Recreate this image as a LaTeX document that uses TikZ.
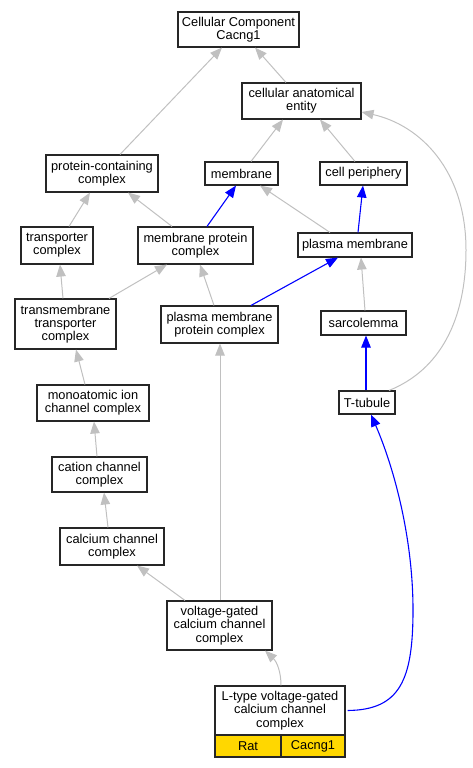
\documentclass[tikz,border=0pt]{standalone}
\usepackage{fontspec}
\setmainfont{Liberation Sans}
\usetikzlibrary{arrows.meta,calc}
\definecolor{edgegray}{HTML}{C0C0C0}
\definecolor{gold}{HTML}{FFD700}
\begin{document}
\begin{tikzpicture}[x=1pt,y=-1pt,
  box/.style={draw=black!85,line width=1.1pt,fill=white,inner sep=0pt,align=center,
    font=\fontsize{12.8}{13.3}\selectfont},
  cell/.style={box,fill=gold},
  isa/.style={draw=edgegray,line width=1pt,-{Triangle[length=12pt,width=9.5pt]}},
  part/.style={draw=blue,line width=1.1pt,-{Triangle[length=12pt,width=9.5pt]}}]
\useasboundingbox (0,0) rectangle (473,768);
\node[box,minimum width=121,minimum height=35] (cc) at (238.5,29.5) {Cellular Component\\Cacng1};
\node[box,minimum width=119,minimum height=36] (cae) at (301.5,101) {cellular anatomical\\entity};
\node[box,minimum width=73,minimum height=23] (mem) at (241.5,173.5) {membrane};
\node[box,minimum width=87,minimum height=23] (cp) at (363.5,173.5) {cell periphery};
\node[box,minimum width=112,minimum height=37] (pcc) at (102,173.5) {protein-containing\\complex};
\node[box,minimum width=72,minimum height=37] (tc) at (57,245.5) {transporter\\complex};
\node[box,minimum width=115,minimum height=37] (mpc) at (195.5,245.5) {membrane protein\\complex};
\node[box,minimum width=114,minimum height=24] (pm) at (355,245) {plasma membrane};
\node[box,minimum width=101,minimum height=50] (tmtc) at (65.5,324) {transmembrane\\transporter\\complex};
\node[box,minimum width=117,minimum height=37] (pmpc) at (219.5,324.5) {plasma membrane\\protein complex};
\node[box,minimum width=85,minimum height=24] (sar) at (363.5,323) {sarcolemma};
\node[box,minimum width=56,minimum height=23] (ttub) at (367,402.5) {T-tubule};
\node[box,minimum width=112,minimum height=36] (mic) at (93,403) {monoatomic ion\\channel complex};
\node[box,minimum width=95,minimum height=35] (cat) at (99.5,474.5) {cation channel\\complex};
\node[box,minimum width=104,minimum height=37] (cal) at (112,546.5) {calcium channel\\complex};
\node[box,minimum width=105,minimum height=49] (vg) at (219.5,625.5) {voltage-gated\\calcium channel\\complex};
\node[box,minimum width=130,minimum height=49] (lt) at (280,710.5) {L-type voltage-gated\\calcium channel\\complex};
\node[cell,minimum width=66,minimum height=22] (rat) at (248,746) {Rat};
\node[cell,minimum width=64,minimum height=22] (gene) at (313,746) {Cacng1};
% is_a edges
\draw[isa] ($(pcc.north)+(18,0)$) -- ($(cc.south)+(-16.5,0)$);
\draw[isa] ($(cae.north)+(-15.5,0)$) -- ($(cc.south)+(16.5,0)$);
\draw[isa] ($(mem.north)+(9.5,0)$) -- ($(cae.south)+(-18.5,0)$);
\draw[isa] ($(cp.north)+(-8.5,0)$) -- ($(cae.south)+(18.5,0)$);
\draw[isa] ($(ttub.north)+(22,0)$) .. controls (440,370) and (466,320) .. (466,250)
  .. controls (466,170) and (420,125) .. ($(cae.east)+(0,11)$);
\draw[isa] ($(mpc.north)+(-23.5,0)$) -- ($(pcc.south)+(26,0)$);
\draw[isa] ($(tc.north)+(12,0)$) -- ($(pcc.south)+(-12,0)$);
\draw[isa] ($(pm.north)+(-25,0)$) -- ($(mem.south)+(18.5,0)$);
\draw[isa] ($(tmtc.north)+(-2.5,0)$) -- ($(tc.south)+(3,0)$);
\draw[isa] ($(tmtc.north)+(43.5,0)$) -- ($(mpc.south)+(-28.5,0)$);
\draw[isa] ($(pmpc.north)+(-5.5,0)$) -- ($(mpc.south)+(4.5,0)$);
\draw[isa] ($(sar.north)+(1.5,0)$) -- ($(pm.south)+(6,0)$);
\draw[isa] ($(mic.north)+(-8,0)$) -- ($(tmtc.south)+(10.5,0)$);
\draw[isa] ($(cat.north)+(-2.5,0)$) -- ($(mic.south)+(1,0)$);
\draw[isa] ($(cal.north)+(-4,0)$) -- ($(cat.south)+(4.5,0)$);
\draw[isa] ($(vg.north)+(-34.5,0)$) -- ($(cal.south)+(25,0)$);
\draw[isa] ($(vg.north)+(0.5,0)$) -- ($(pmpc.south)+(0.5,0)$);
\draw[isa] ($(lt.north)+(1,0)$) .. controls (281,672) and (277,662) .. ($(vg.south)+(45.5,0)$);
% part_of edges
\draw[part] ($(mpc.north)+(11.5,0)$) -- ($(mem.south)+(-5.5,0)$);
\draw[part] ($(pm.north)+(3,0)$) -- ($(cp.south)+(-0.5,0)$);
\draw[part] ($(pmpc.north)+(31.5,0)$) -- ($(pm.south)+(-17,0)$);
\draw[part] ($(ttub.north)+(-1,0)$) -- ($(sar.south)+(2.5,0)$);
\draw[part] ($(lt.east)+(2,0)$) .. controls (400,710) and (413,680) .. (413,610)
  .. controls (413,540) and (395,470) .. ($(ttub.south)+(4,0)$);
\end{tikzpicture}
\end{document}
